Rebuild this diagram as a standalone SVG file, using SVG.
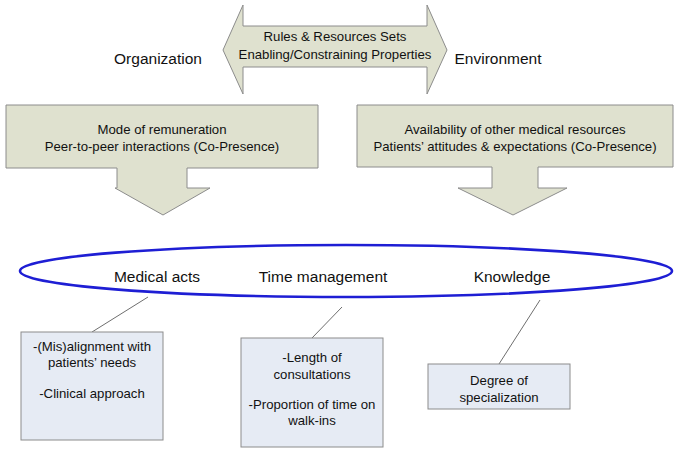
<svg xmlns="http://www.w3.org/2000/svg" width="685" height="463" viewBox="0 0 685 463">
<style>
text{font-family:"Liberation Sans",Arial,sans-serif;fill:#111;text-anchor:middle}
.blk{fill:#dfe1cf;stroke:#8c8c8c;stroke-width:1}
.box{fill:#e6ebf4;stroke:#8c8c8c;stroke-width:1}
.t13{font-size:13.2px}
.t15{font-size:15.5px}
.conn{stroke:#6e6e6e;stroke-width:1;fill:none}
</style>
<rect width="685" height="463" fill="#fff"/>
<g id="rules">
<polygon class="blk" points="223,50 243,5 243,26 427,26 427,5 447,50 427,94 427,67 243,67 243,94"/>
<text class="t13" x="335" y="41">Rules &amp; Resources Sets</text>
<text class="t13" x="335" y="59">Enabling/Constraining Properties</text>
</g>
<g id="organization"><text class="t15" x="158" y="64">Organization</text></g>
<g id="environment"><text class="t15" x="498" y="64">Environment</text></g>
<g id="org-arrow">
<polygon class="blk" points="6,105 318,105 318,168 187,168 187,188 210,188 163,215 115,188 117,188 117,168 6,168"/>
<text class="t13" x="162" y="134">Mode of remuneration</text>
<text class="t13" x="162" y="151">Peer-to-peer interactions (Co-Presence)</text>
</g>
<g id="env-arrow">
<polygon class="blk" points="357,105 673,105 673,167 538,167 538,188 567,188 513,215 458,188 492,188 492,167 357,167"/>
<text class="t13" x="515" y="134">Availability of other medical resources</text>
<text class="t13" x="515" y="151">Patients’ attitudes &amp; expectations (Co-Presence)</text>
</g>
<g id="practice">
<ellipse cx="346" cy="271" rx="326" ry="26" fill="none" stroke="#1e1ed4" stroke-width="2.6"/>
<text class="t15" x="157" y="282">Medical acts</text>
<text class="t15" x="323" y="282">Time management</text>
<text class="t15" x="512" y="282">Knowledge</text>
</g>
<g id="connectors">
<line class="conn" x1="148" y1="297" x2="92" y2="332"/>
<line class="conn" x1="342" y1="307" x2="312" y2="338"/>
<line class="conn" x1="540" y1="300" x2="499" y2="364"/>
</g>
<g id="box-medical">
<rect class="box" x="21" y="332" width="142" height="108"/>
<text class="t13" x="92" y="351">-(Mis)alignment with</text>
<text class="t13" x="92" y="367">patients’ needs</text>
<text class="t13" x="92" y="398">-Clinical approach</text>
</g>
<g id="box-time">
<rect class="box" x="241" y="338" width="142" height="109"/>
<text class="t13" x="312" y="362">-Length of</text>
<text class="t13" x="312" y="379">consultations</text>
<text class="t13" x="312" y="409">-Proportion of time on</text>
<text class="t13" x="312" y="425">walk-ins</text>
</g>
<g id="box-knowledge">
<rect class="box" x="428" y="364" width="142" height="45"/>
<text class="t13" x="499" y="385">Degree of</text>
<text class="t13" x="499" y="402">specialization</text>
</g>
</svg>
